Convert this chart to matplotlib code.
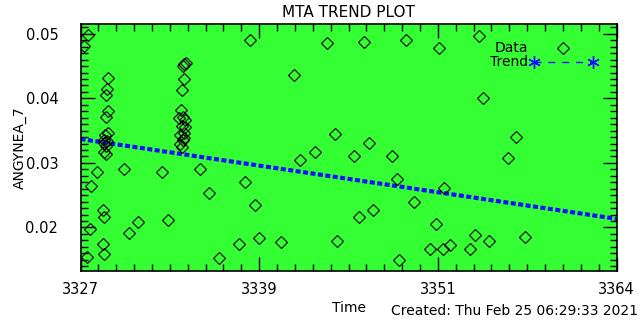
import matplotlib
matplotlib.use("Agg")
import matplotlib.pyplot as plt
from matplotlib.ticker import FixedLocator, MultipleLocator

# data (time in days, ANGYNEA_7 value)
time = [
    3327.54, 3327.24, 3327.72, 3328.16, 3327.66, 3327.47, 3328.57, 3328.62, 3328.57, 3328.62,
    3328.90, 3328.83, 3328.76, 3328.90, 3328.76, 3328.69, 3328.90, 3328.62, 3328.83, 3328.62,
    3328.76, 3328.62, 3328.76,
    3334.14, 3334.28, 3334.08, 3334.14, 3334.01, 3333.94, 3333.80, 3334.08, 3334.21, 3334.01,
    3334.21, 3333.87, 3334.14, 3334.08, 3333.87, 3334.01, 3334.14,
    3330.00, 3330.37, 3330.99, 3332.65, 3333.06, 3335.28, 3335.90, 3336.58, 3337.96, 3338.38,
    3338.70, 3339.05, 3339.34, 3340.84, 3341.76, 3342.15, 3343.19, 3344.04, 3344.57, 3344.73,
    3345.90, 3346.19, 3346.59, 3346.94, 3347.21, 3348.52, 3348.87, 3349.01, 3349.47, 3350.04,
    3351.13, 3351.54, 3351.77, 3352.04, 3352.11, 3352.51, 3353.89, 3354.23, 3354.53, 3354.81,
    3355.19, 3356.53, 3357.06, 3357.68,
]
angynea = [
    0.04989, 0.04808, 0.02645, 0.02856, 0.01980, 0.01543, 0.02274, 0.02161, 0.01743, 0.01589,
    0.04314, 0.04144, 0.04051, 0.03804, 0.03711, 0.03433, 0.03464, 0.03355, 0.03340, 0.03309,
    0.03263, 0.03170, 0.03139,
    0.04530, 0.04546, 0.04499, 0.04298, 0.04128, 0.03819, 0.03696, 0.03711, 0.03665, 0.03572,
    0.03556, 0.03433, 0.03464, 0.03355, 0.03294, 0.03247, 0.03386,
    0.02903, 0.01913, 0.02083, 0.02856, 0.02119, 0.02903, 0.02536, 0.01527, 0.01743, 0.02702,
    0.04912, 0.02351, 0.01836, 0.01774, 0.04360, 0.03046, 0.03165, 0.04859, 0.03444, 0.01794,
    0.03108, 0.02161, 0.04875, 0.03304, 0.02274, 0.03108, 0.02748, 0.01501, 0.04912, 0.02402,
    0.01666, 0.02057, 0.04788, 0.01666, 0.02609, 0.01722, 0.01666, 0.01887, 0.04963, 0.04000,
    0.01787, 0.03073, 0.03397, 0.01852,
]

# linear trend, end points
trend_x = [3327.0, 3364.0]
trend_y = [0.03371, 0.02134]

x_ticks = [3327.0, 3339.333, 3351.667, 3364.0]
x_labels = ["3327", "3339", "3351", "3364"]
y_ticks = [0.02, 0.03, 0.04, 0.05]
y_labels = ["0.02", "0.03", "0.04", "0.05"]

green = "#33ff33"
blue = "#1010ff"
asterisk = (6, 2, 0)

fig = plt.figure(figsize=(6.4, 3.2), dpi=100)
ax = fig.add_axes([0.1258, 0.153, 0.8375, 0.7735])
ax.set_facecolor(green)

ax.plot(trend_x, trend_y, color=blue, linestyle=(0, (1.2, 0.6)), linewidth=3, zorder=2)
ax.plot(time, angynea, linestyle="none", marker="D", markersize=6,
        markerfacecolor="none", markeredgecolor="black", markeredgewidth=0.8, zorder=3)

ax.set_xlim(3327, 3364)
ax.set_ylim(0.01325, 0.0516)

ax.xaxis.set_major_locator(FixedLocator(x_ticks))
ax.set_xticklabels(x_labels)
ax.xaxis.set_minor_locator(FixedLocator(
    [3327 + k * 37 / 30 for k in range(31)]))
ax.yaxis.set_major_locator(FixedLocator(y_ticks))
ax.set_yticklabels(y_labels)
ax.yaxis.set_minor_locator(MultipleLocator(0.001))

ax.tick_params(which="both", direction="in", top=True, right=True,
               labelsize=10.5, color="black", width=1)
ax.tick_params(which="major", length=10)
ax.tick_params(axis="x", which="major", pad=8)
ax.tick_params(axis="y", which="major", pad=16)
ax.tick_params(which="minor", length=5)
for sp in ax.spines.values():
    sp.set_linewidth(1.2)

ax.set_title("MTA TREND PLOT", fontsize=11, pad=5)
ax.set_xlabel("Time", fontsize=10, labelpad=3)
ax.set_ylabel("ANGYNEA_7", fontsize=10, labelpad=-1)

# legend drawn like the IDL one
ax.text(0.835, 0.9, "Data", transform=ax.transAxes, ha="right", va="center", fontsize=10)
ax.plot([0.900], [0.9], transform=ax.transAxes, linestyle="none", marker="D", markersize=6,
        markerfacecolor="none", markeredgecolor="black", markeredgewidth=0.8)
ax.text(0.835, 0.843, "Trend", transform=ax.transAxes, ha="right", va="center", fontsize=10)
ax.plot([0.846, 0.956], [0.843, 0.843], transform=ax.transAxes, color=blue,
        linestyle=(0, (5, 5)), linewidth=1, marker=asterisk, markersize=9,
        markeredgewidth=1)

fig.text(0.997, 0.005, "Created: Thu Feb 25 06:29:33 2021", ha="right", va="bottom", fontsize=10)

fig.savefig("out.png", dpi=100, facecolor="white")
